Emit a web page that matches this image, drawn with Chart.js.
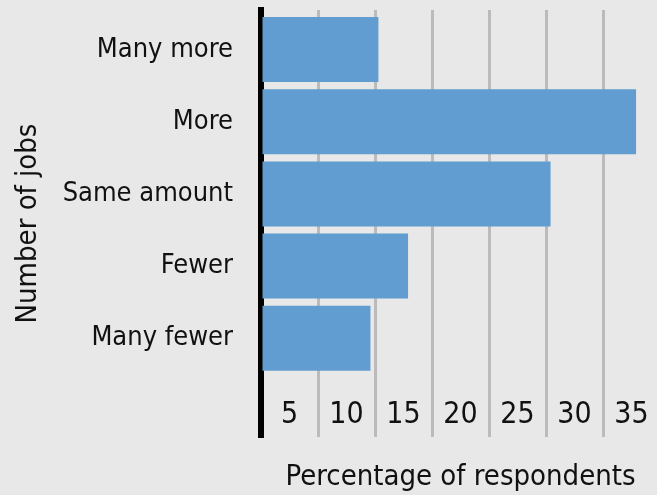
<!DOCTYPE html>
<html>
<head>
<meta charset="utf-8">
<script src="https://cdn.jsdelivr.net/npm/chart.js@4"></script>
<style>
    html, body { margin: 0; padding: 0; overflow: hidden; background: #e7e8e7; }
    #wrap { width: 660px; height: 495px; }
</style>
</head>
<body>
<div id="wrap"><canvas id="chart" width="660" height="495"></canvas></div>
<script>
// Chart data
const categories = ['Many more', 'More', 'Same amount', 'Fewer', 'Many fewer'];
const percentages = [10.3, 32.9, 25.4, 12.9, 9.6];
const xTickValues = [5, 10, 15, 20, 25, 30, 35];

const fontFamily = '"DejaVu Sans Condensed", "Liberation Sans Narrow", sans-serif';
const textColor = '#111111';

// one point per category, category index on the y axis
const points = percentages.map((v, i) => ({ x: v, y: i }));

const ctx = document.getElementById('chart').getContext('2d');
new Chart(ctx, {
    type: 'bar',
    data: {
        datasets: [{
            data: points,
            backgroundColor: '#619dd1',
            borderWidth: 0,
            barPercentage: 0.9,
            categoryPercentage: 1
        }]
    },
    options: {
        indexAxis: 'y',
        responsive: false,
        animation: false,
        layout: { padding: { top: 10, left: 0, right: 0, bottom: 0 } },
        plugins: {
            legend: { display: false },
            tooltip: { enabled: false }
        },
        scales: {
            x: {
                type: 'linear',
                min: 0,
                max: 35,
                afterBuildTicks: scale => {
                    scale.ticks = [0].concat(xTickValues).map(v => ({ value: v }));
                },
                afterFit: scale => {
                    scale.height = 58;
                    scale.paddingLeft = 0;
                    scale.paddingRight = 0;
                },
                grid: { color: '#bbbbbb', lineWidth: 3, drawTicks: false },
                border: { display: false },
                ticks: {
                    // mirrored so the labels sit inside the plot, between the grid lines
                    mirror: true,
                    autoSkip: false,
                    maxRotation: 0,
                    padding: 4,
                    labelOffset: -28.5,
                    color: textColor,
                    font: { family: fontFamily, size: 30 },
                    callback: v => v === 0 ? '' : v
                },
                title: {
                    display: true,
                    text: 'Percentage of respondents',
                    color: textColor,
                    font: { family: fontFamily, size: 29 },
                    padding: { top: 0, bottom: 0 }
                }
            },
            y: {
                type: 'linear',
                reverse: true,
                offset: false,
                min: -0.547,
                max: 5.367,
                z: 1,
                afterBuildTicks: scale => {
                    scale.ticks = categories.map((c, i) => ({ value: i }));
                },
                afterFit: scale => {
                    scale.width = 261;
                    scale.paddingTop = 0;
                    scale.paddingBottom = 0;
                },
                grid: { display: false, drawTicks: false, offset: false },
                border: { display: true, color: '#000000', width: 6 },
                ticks: {
                    autoSkip: false,
                    padding: 28,
                    color: textColor,
                    font: { family: fontFamily, size: 27 },
                    callback: v => categories[v]
                },
                title: {
                    display: true,
                    text: 'Number of jobs',
                    color: textColor,
                    font: { family: fontFamily, size: 29 },
                    padding: { top: 11, bottom: 0 }
                }
            }
        }
    }
});
</script>
</body>
</html>
